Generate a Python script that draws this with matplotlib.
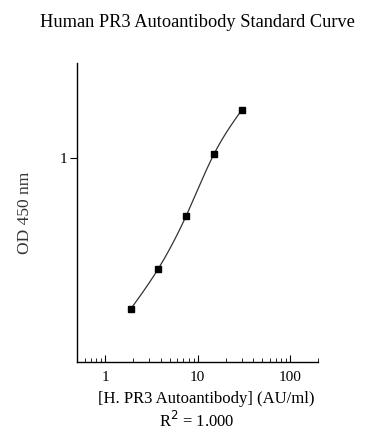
import numpy as np
import matplotlib
matplotlib.use('Agg')
import matplotlib.pyplot as plt
from matplotlib.ticker import LogLocator, FixedLocator, NullFormatter, NullLocator

plt.rcParams['font.family'] = ['Liberation Serif', 'DejaVu Serif']

conc = [1.875, 3.75, 7.5, 15, 30]
od = [0.181, 0.287, 0.522, 1.05, 1.73]
title = 'Human PR3 Autoantibody Standard Curve'
xlabel = '[H. PR3 Autoantibody] (AU/ml)'
ylabel = 'OD 450 nm'


def natural_spline(x, y, xs):
    # plain natural cubic spline, fit curve drawn in log-log space
    n = len(x)
    h = np.diff(x)
    A = np.zeros((n, n))
    b = np.zeros(n)
    A[0, 0] = 1
    A[-1, -1] = 1
    for i in range(1, n - 1):
        A[i, i - 1] = h[i - 1]
        A[i, i] = 2 * (h[i - 1] + h[i])
        A[i, i + 1] = h[i]
        b[i] = 3 * ((y[i + 1] - y[i]) / h[i] - (y[i] - y[i - 1]) / h[i - 1])
    c = np.linalg.solve(A, b)
    out = np.empty_like(xs)
    for k, v in enumerate(xs):
        i = min(max(np.searchsorted(x, v) - 1, 0), n - 2)
        d = v - x[i]
        bi = (y[i + 1] - y[i]) / h[i] - h[i] * (2 * c[i] + c[i + 1]) / 3
        di = (c[i + 1] - c[i]) / (3 * h[i])
        out[k] = y[i] + bi * d + c[i] * d ** 2 + di * d ** 3
    return out


lx = np.log10(conc)
ly = np.log10(od)
xs = np.linspace(lx[0], lx[-1], 300)
ys = natural_spline(lx, ly, xs)

fig = plt.figure(figsize=(3.72, 4.44), dpi=100)
ax = fig.add_axes([0.2083, 0.1854, 0.855 - 0.2083, 0.8588 - 0.1854])

ax.plot(10 ** xs, 10 ** ys, color='#333333', lw=0.9)
ax.plot(conc, od, 's', color='black', ms=3.8)

ax.set_xscale('log')
ax.set_yscale('log')
ax.set_xlim(0.5, 200)
ax.set_ylim(0.1, 2.95)

ax.spines['top'].set_visible(False)
ax.spines['right'].set_visible(False)
ax.spines['left'].set_linewidth(1.0)
ax.spines['bottom'].set_linewidth(1.0)

ax.xaxis.set_major_locator(FixedLocator([1, 10, 100]))
ax.xaxis.set_minor_locator(LogLocator(base=10, subs=np.arange(2, 10)))
ax.xaxis.set_minor_formatter(NullFormatter())
ax.set_xticklabels(['1', '10', '100'])
ax.tick_params(axis='x', which='major', direction='in', length=5, width=0.8,
               labelsize=11, pad=7)
ax.tick_params(axis='x', which='minor', direction='in', length=3, width=0.6)

ax.yaxis.set_major_locator(FixedLocator([1]))
ax.yaxis.set_minor_locator(NullLocator())
ax.set_yticklabels(['1'])
ax.tick_params(axis='y', which='major', direction='out', length=5, width=0.8,
               labelsize=11, pad=2)

fig.text(0.53, 0.95, title, ha='center', va='center', fontsize=13.2)
fig.text(0.067, 0.52, ylabel, ha='center', va='center', rotation=90,
         fontsize=12.5, color='#333333')
fig.text(0.555, 0.101, xlabel, ha='center', va='center', fontsize=12)
fig.text(0.53, 0.052, r'R$^2$ = 1.000', ha='center', va='center', fontsize=12)

fig.savefig('out.png', dpi=100)
